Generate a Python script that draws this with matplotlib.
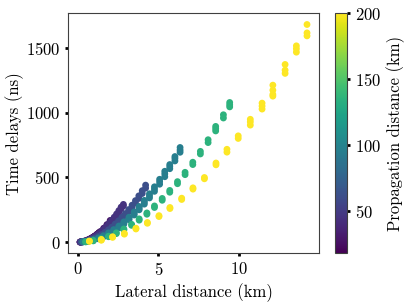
import matplotlib
matplotlib.use("Agg")
import matplotlib.pyplot as plt
import numpy as np

plt.rcParams['font.family'] = 'serif'
plt.rcParams['font.serif'] = ['cmr10']
plt.rcParams['mathtext.fontset'] = 'cm'
plt.rcParams['axes.unicode_minus'] = False
plt.rcParams['axes.formatter.use_mathtext'] = True

# propagation distances (km) of each group
prop_dist = [18, 30, 45, 62, 95, 135, 200]

# lateral distance (km) of each cluster, and time delays (ns) in the cluster
x_18 = [0.13, 0.26, 0.39, 0.52, 0.65, 0.78, 0.91, 1.04, 1.17, 1.30]
t_18 = [(0.7, 1.0), (2.8, 3.3), (6.4, 7.0), (11, 12.5), (18, 19), (25, 27), (35, 37), (45, 48), (57, 60), (71, 74)]

x_30 = [0.2, 0.4, 0.6, 0.8, 1.0, 1.2, 1.4, 1.6, 1.8, 2.0]
t_30 = [(1.6, 2.2), (6.4, 7.3), (14, 16), (25, 28), (40, 43), (57, 61), (78, 83), (102, 108), (129, 136), (160, 168)]

x_45 = [0.14, 0.28, 0.42, 0.56, 0.70, 0.85, 0.99, 1.13, 1.27, 1.41,
        1.55, 1.69, 1.83, 1.97, 2.11, 2.25, 2.40, 2.54, 2.68, 2.82]
t_45 = [(0.7, 1.2), (2.8, 3.6), (6.4, 7.5), (11, 13), (17, 20), (26, 29), (35, 39), (46, 50), (58, 63), (71, 77),
        (86, 93), (103, 110), (120, 129), (140, 149), (160, 170), (182, 193), (207, 218), (232, 244), (258, 271), (280, 292)]

x_62 = [0.21, 0.42, 0.63, 0.84, 1.05, 1.26, 1.47, 1.68, 1.89, 2.10,
        2.31, 2.52, 2.73, 2.94, 3.15, 3.36, 3.57, 3.78, 3.99, 4.20]
t_62 = [(1, 2), (4, 6), (9, 12), (16, 20), (26, 31), (38, 44), (52, 59), (68, 76), (86, 95), (106, 116),
        (128, 140), (152, 165), (178, 192), (206, 221), (236, 252), (268, 286), (302, 321), (338, 358), (376, 398), (418, 441)]

x_95 = [0.32, 0.63, 0.95, 1.27, 1.58, 1.90, 2.22, 2.54, 2.85, 3.17,
        3.49, 3.80, 4.12, 4.44, 4.75, 5.07, 5.39, 5.70, 6.02, 6.34]
t_95 = [(2, 3, 4), (6, 7, 9), (14, 16, 19), (26, 29, 33), (42, 45, 50), (60, 66, 72), (83, 90, 97), (110, 117, 125),
        (140, 148, 157), (173, 183, 193), (210, 222, 234), (250, 263, 276), (294, 309, 323), (342, 358, 374),
        (393, 411, 428), (448, 468, 486), (506, 528, 548), (568, 585, 600), (628, 647, 662), (695, 712, 732)]

x_135 = [0.48, 0.95, 1.43, 1.90, 2.38, 2.85, 3.33, 3.80, 4.28, 4.75,
         5.23, 5.70, 6.18, 6.65, 7.13, 7.60, 8.08, 8.55, 9.03, 9.42]
t_135 = [(2, 4), (10, 13), (23, 27), (42, 46), (66, 72), (95, 102), (130, 138), (170, 180), (216, 226), (268, 280),
         (324, 338), (386, 400), (452, 468), (522, 540), (600, 618), (682, 702), (770, 792), (860, 878, 895),
         (960, 985), (1046, 1062, 1080)]

x_200 = [0.71, 1.45, 2.15, 2.88, 3.60, 4.31, 5.03, 5.71, 6.44, 7.14,
         7.85, 8.57, 9.25, 9.95, 10.70, 11.43, 12.10, 12.86, 13.56, 14.22]
t_200 = [(6, 9), (15, 18, 21), (37, 42), (62, 68), (102, 108), (146, 152), (198, 205), (260, 268), (330, 340),
         (410, 420), (490, 500), (598, 612), (696, 718), (802, 822), (905, 930, 950), (1029, 1052, 1075),
         (1129, 1142, 1175, 1214), (1305, 1330, 1374), (1469, 1495, 1518), (1595, 1618, 1683)]

groups = [(x_18, t_18), (x_30, t_30), (x_45, t_45), (x_62, t_62),
          (x_95, t_95), (x_135, t_135), (x_200, t_200)]

xs, ts, cs = [], [], []
for d, (xc, tc) in zip(prop_dist, groups):
    for xv, tv in zip(xc, tc):
        for t in tv:
            xs.append(xv)
            ts.append(t)
            cs.append(d)

fig = plt.figure(figsize=(4.07, 3.05), dpi=100)
ax = fig.add_axes([0.167, 0.170, 0.617, 0.787])
sc = ax.scatter(xs, ts, c=cs, cmap='viridis', vmin=18, vmax=200, s=24, edgecolors='none')

ax.set_xlim(-0.62, 14.97)
ax.set_ylim(-85, 1771)
ax.set_xticks([0, 5, 10])
ax.set_yticks([0, 500, 1000, 1500])
ax.set_xlabel('Lateral distance (km)', fontsize=12)
ax.set_ylabel('Time delays (ns)', fontsize=12, labelpad=1)
ax.tick_params(labelsize=12, length=2, width=2, color='black')
for sp in ax.spines.values():
    sp.set_linewidth(0.8)
    sp.set_color('0.25')

cax = fig.add_axes([0.823, 0.170, 0.0295, 0.787])
cb = fig.colorbar(sc, cax=cax)
cb.set_ticks([50, 100, 150, 200])
cb.ax.tick_params(labelsize=12, length=2, width=2, color='black')
cb.outline.set_linewidth(0.8)
cb.outline.set_edgecolor('0.25')
cb.set_label('Propagation distance (km)', fontsize=12)

fig.savefig('out.png', dpi=100)
